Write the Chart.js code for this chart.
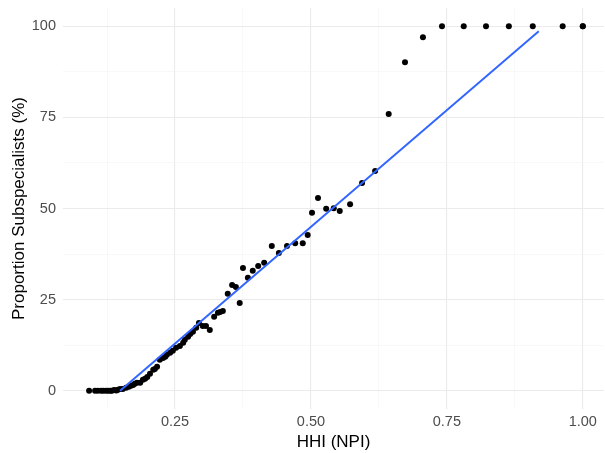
<!DOCTYPE html>
<html>
<head>
<meta charset="utf-8">
<script src="https://cdn.jsdelivr.net/npm/chart.js@4/dist/chart.umd.min.js"></script>
<style>
  html, body { margin: 0; padding: 0; background: #fff; }
  #wrap { width: 605px; height: 453px; }
</style>
</head>
<body>
<div id="wrap"><canvas id="hhiChart" width="605" height="453"></canvas></div>
<script>
// HHI (NPI) per point, and matching share of subspecialists (%)
var hhi = [
  0.092, 0.103, 0.108, 0.114, 0.118, 0.123, 0.127, 0.131, 0.134, 0.138,
  0.142, 0.145, 0.149, 0.154, 0.160, 0.165, 0.169, 0.173, 0.176, 0.180,
  0.186, 0.191, 0.195, 0.199, 0.204, 0.210, 0.213, 0.217, 0.222, 0.228,
  0.232, 0.235, 0.241, 0.246, 0.252, 0.259, 0.265, 0.268, 0.274, 0.278,
  0.283, 0.289, 0.294, 0.301, 0.307, 0.314, 0.322, 0.329, 0.333, 0.338,
  0.347, 0.355, 0.362, 0.369, 0.375, 0.384, 0.393, 0.403, 0.414, 0.428,
  0.441, 0.456, 0.471, 0.485, 0.494, 0.502, 0.513, 0.528, 0.542, 0.553,
  0.572, 0.594, 0.618, 0.643, 0.673, 0.706, 0.741, 0.781, 0.822, 0.864,
  0.908, 0.963, 1.000, 1.000
];
var pct = [
  0, 0, 0, 0, 0, 0, 0, 0, 0, 0.2,
  0.1, 0.3, 0.5, 0.5, 0.8, 1.1, 1.4, 1.6, 1.9, 2.2,
  2.2, 3.0, 3.3, 3.8, 4.7, 5.8, 6.0, 6.6, 8.5, 9.0,
  9.3, 9.9, 10.4, 11.0, 11.8, 12.3, 13.2, 14.0, 14.8, 15.6,
  16.2, 17.3, 18.6, 17.8, 17.8, 16.7, 20.3, 21.4, 21.6, 21.9,
  26.6, 29.0, 28.5, 24.1, 33.7, 31.0, 32.9, 34.2, 35.1, 39.7,
  37.8, 39.7, 40.5, 40.5, 42.7, 48.8, 52.9, 49.9, 50.1, 49.3,
  51.2, 57.0, 60.3, 75.9, 90.1, 97.0, 100, 100, 100, 100,
  100, 100, 100, 100
];

// linear fit ends (lm line)
var fitX = [0.149, 0.919];
var fitY = [0.0, 98.6];

var xTicks = [0.125, 0.25, 0.375, 0.5, 0.625, 0.75, 0.875, 1.0];
var yTicks = [0, 12.5, 25, 37.5, 50, 62.5, 75, 87.5, 100];

var points = hhi.map(function (x, i) { return { x: x, y: pct[i] }; });
var fitLine = fitX.map(function (x, i) { return { x: x, y: fitY[i] }; });

function isMajor(v) { return Math.abs(v / 0.25 - Math.round(v / 0.25)) < 1e-6; }
function isMajorY(v) { return v % 25 === 0; }

var ctx = document.getElementById('hhiChart');

var chart = new Chart(ctx, {
  type: 'scatter',
  data: {
    datasets: [{
      label: 'fit',
      type: 'line',
      data: fitLine,
      borderColor: '#3366FF',
      borderWidth: 2,
      pointRadius: 0,
      fill: false,
      order: 0
    }, {
      label: 'points',
      data: points,
      backgroundColor: '#000',
      borderColor: '#000',
      pointRadius: 3,
      borderWidth: 0,
      order: 1
    }]
  },
  options: {
    responsive: false,
    animation: false,
    layout: {
      autoPadding: false,
      padding: { left: 0, right: 1, top: 8, bottom: 0 }
    },
    plugins: {
      legend: { display: false },
      tooltip: { enabled: false }
    },
    scales: {
      x: {
        type: 'linear',
        min: 0.044,
        max: 1.039,
        afterBuildTicks: function (axis) {
          axis.ticks = xTicks.map(function (v) { return { value: v }; });
        },
        afterFit: function (axis) {
          axis.height = 44;
          axis.paddingLeft = 0;
          axis.paddingRight = 0;
        },
        border: { display: false },
        grid: {
          drawTicks: false,
          color: function (c) { return c.tick && isMajor(c.tick.value) ? '#ebebeb' : '#f4f4f4'; },
          lineWidth: function (c) { return c.tick && isMajor(c.tick.value) ? 1.1 : 0.6; }
        },
        ticks: {
          autoSkip: false,
          maxRotation: 0,
          padding: 4,
          color: '#4d4d4d',
          font: { family: 'Liberation Sans', size: 14.5 },
          callback: function (v) { return isMajor(v) ? v.toFixed(2) : ''; }
        },
        title: {
          display: true,
          text: 'HHI (NPI)',
          color: '#000',
          font: { family: 'Liberation Sans', size: 17 },
          padding: { top: 0, bottom: 0 }
        }
      },
      y: {
        type: 'linear',
        min: -5,
        max: 105,
        afterBuildTicks: function (axis) {
          axis.ticks = yTicks.map(function (v) { return { value: v }; });
        },
        afterFit: function (axis) {
          axis.width = 63;
          axis.paddingTop = 0;
          axis.paddingBottom = 0;
        },
        border: { display: false },
        grid: {
          drawTicks: false,
          color: function (c) { return c.tick && isMajorY(c.tick.value) ? '#ebebeb' : '#f4f4f4'; },
          lineWidth: function (c) { return c.tick && isMajorY(c.tick.value) ? 1.1 : 0.6; }
        },
        ticks: {
          autoSkip: false,
          padding: 7,
          color: '#4d4d4d',
          font: { family: 'Liberation Sans', size: 14.5 },
          callback: function (v) { return isMajorY(v) ? String(v) : ''; }
        },
        title: {
          display: true,
          text: 'Proportion Subspecialists (%)',
          color: '#000',
          font: { family: 'Liberation Sans', size: 17 },
          padding: { top: 9, bottom: 0 }
        }
      }
    }
  }
});
</script>
</body>
</html>
